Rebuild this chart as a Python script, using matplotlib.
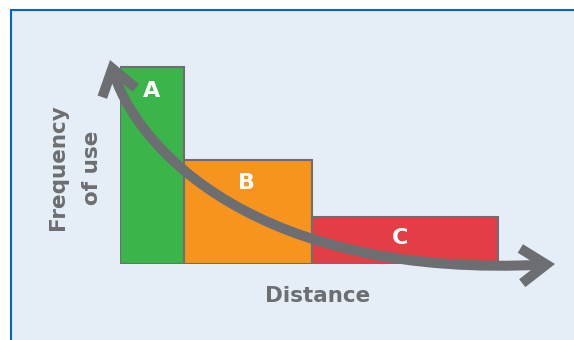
import matplotlib.pyplot as plt
from matplotlib.patches import Rectangle, FancyArrowPatch
from matplotlib.path import Path

# data
labels = ["A", "B", "C"]
dist_edges = [0, 1, 3, 5.9]      # distance bands
freq = [1.0, 0.53, 0.24]         # relative frequency of use
colors = ["#3bb44a", "#f7941d", "#e33e45"]

gray = "#6d6e71"
bg = "#e5edf7"
font = "DejaVu Sans"

fig = plt.figure(figsize=(5.74, 3.40), dpi=100)
fig.patch.set_facecolor("white")

# background panel (pixel coords)
back = fig.add_axes([0, 0, 1, 1], zorder=0)
back.set_xlim(0, 574)
back.set_ylim(340, 0)
back.axis("off")
back.add_patch(Rectangle((11, 10), 600, 400, facecolor=bg,
                         edgecolor="#0066cc", lw=1.5))

# bars
ax = fig.add_axes([120 / 574, 76 / 340, 448 / 574, 224 / 340], zorder=1)
ax.set_xlim(0, 7)
ax.set_ylim(0, 224 / 197)
ax.axis("off")
for i in range(len(freq)):
    w = dist_edges[i + 1] - dist_edges[i]
    ax.bar(dist_edges[i], freq[i], width=w, align="edge",
           color=colors[i], edgecolor=gray, lw=1.5)

# overlay for arrow and text (pixel coords)
ov = fig.add_axes([0, 0, 1, 1], zorder=2)
ov.set_xlim(0, 574)
ov.set_ylim(340, 0)
ov.axis("off")
ov.patch.set_alpha(0)

verts = [(110, 60), (135, 150), (260, 280), (555, 264)]
path = Path(verts, [Path.MOVETO, Path.CURVE4, Path.CURVE4, Path.CURVE4])
arr = FancyArrowPatch(path=path,
                      arrowstyle="<->,head_length=1.8,head_width=1.25",
                      mutation_scale=10, lw=7.2, color=gray,
                      shrinkA=0, shrinkB=0, joinstyle="miter",
                      capstyle="butt")
ov.add_patch(arr)

letter_pos = [(152, 91), (247, 183), (400, 238)]
for i in range(len(labels)):
    ov.text(letter_pos[i][0], letter_pos[i][1], labels[i], color="white",
            fontsize=16, fontweight="bold", family=font,
            ha="center", va="center")

ov.text(58, 167, "Frequency", rotation=90, color=gray, fontsize=15.5,
        fontweight="bold", family=font, ha="center", va="center")
ov.text(92, 168, "of use", rotation=90, color=gray, fontsize=15.5,
        fontweight="bold", family=font, ha="center", va="center")
ov.text(318, 296, "Distance", color=gray, fontsize=15.5,
        fontweight="bold", family=font, ha="center", va="center")

fig.savefig("out.png", dpi=100)
